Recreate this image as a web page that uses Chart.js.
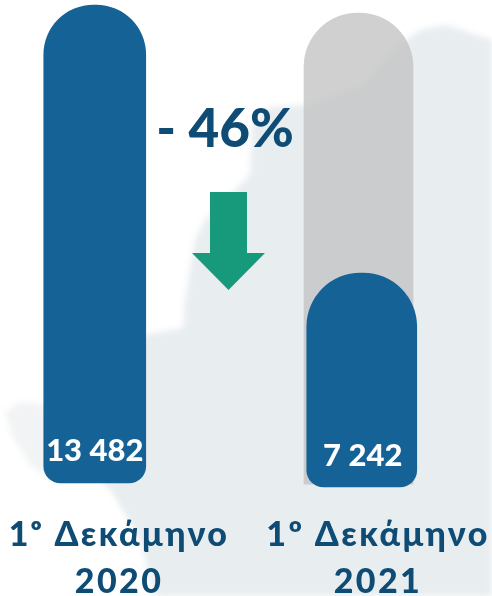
<!DOCTYPE html>
<html>
<head>
<meta charset="utf-8">
<script src="https://cdn.jsdelivr.net/npm/chart.js@4"></script>
<style>
  html, body { margin: 0; padding: 0; background: #fff; }
  #wrap { width: 492px; height: 596px; }
</style>
</head>
<body>
<div id="wrap"><canvas id="c" width="492" height="596"></canvas></div>
<script>
/* labels under the bars */
var categories = [["1ᵒ Δεκάμηνο", "2020"], ["1º Δεκάμηνο", "2021"]];
/* numbers printed on the bars */
var valueLabels = ["13 482", "7 242"];
var changeLabel = "- 46%";

/* bar extents, [base, top]. the source artwork is
   not to scale: its 2021 bar is shorter than 7 242 would be next to 13 482 */
var bar2020 = [0, 13482];
var barGhost = [-30, 13256];
var bar2021 = [-113, 5923];

var BLUE = "#156296", DARK = "#0f4c75", GREEN = "#169a7b";
var FONT = "Lato, 'Noto Sans', sans-serif";

function poly(g, pts) {
  g.beginPath();
  pts.forEach(function (p, i) { if (i) g.lineTo(p[0], p[1]); else g.moveTo(p[0], p[1]); });
  g.closePath();
  g.fill();
}

// pale map behind the chart + arrow + headline text
var decor = {
  id: "decor",
  beforeDraw: function (chart) {
    var g = chart.ctx;
    var map = [[492,40],[462,30],[445,25],[420,30],[400,45],[385,60],[363,85],[335,95],[307,105],[270,107],[252,125],[250,175],[205,220],[195,240],[190,270],[185,300],[183,328],[145,335],[100,400],[100,480],[112,492],[140,540],[155,596],[492,596]];
    var island = [[5,412],[20,402],[50,405],[50,480],[30,465],[12,435]];
    g.save();
    g.filter = "blur(3px)";
    g.fillStyle = "#e8edf0";
    poly(g, map);
    g.fillStyle = "#f1f3f4";
    poly(g, island);
    g.restore();
    g.letterSpacing = "2.4px";
  },
  afterDatasetsDraw: function (chart) {
    var g = chart.ctx;
    g.save();
    g.letterSpacing = "0px";
    g.textAlign = "center";
    g.textBaseline = "middle";
    g.fillStyle = "#fff";
    g.font = "900 31px " + FONT;
    var a = chart.getDatasetMeta(0).data[0], b = chart.getDatasetMeta(2).data[0];
    g.fillText(valueLabels[0], a.x, a.base - 32);
    g.fillText(valueLabels[1], b.x + 1, b.base - 31);
    g.fillStyle = DARK;
    g.font = "900 53px " + FONT;
    g.fillText(changeLabel, 225, 130);
    g.fillStyle = GREEN;
    poly(g, [[210,192],[247,192],[247,253],[265,253],[228.5,290],[192,253],[210,253]]);
    g.restore();
  }
};

new Chart(document.getElementById("c"), {
  type: "bar",
  data: {
    datasets: [
      { data: [{ x: 0, y: bar2020 }], xAxisID: "x", order: 1, grouped: false, backgroundColor: BLUE, barThickness: 102, borderRadius: { topLeft: 50, topRight: 50, bottomLeft: 17, bottomRight: 17 }, borderSkipped: false },
      { data: [{ x: 1, y: barGhost }], xAxisID: "xGhost", order: 2, grouped: false, backgroundColor: "rgba(195,195,195,0.78)", barThickness: 109, borderRadius: { topLeft: 54, topRight: 54, bottomLeft: 0, bottomRight: 0 }, borderSkipped: false },
      { data: [{ x: 1, y: bar2021 }], xAxisID: "x", order: 1, grouped: false, backgroundColor: BLUE, barThickness: 110, borderRadius: { topLeft: 54, topRight: 54, bottomLeft: 17, bottomRight: 17 }, borderSkipped: false }
    ]
  },
  options: {
    responsive: false,
    animation: false,
    layout: { padding: 0 },
    plugins: { legend: { display: false }, tooltip: { enabled: false } },
    scales: {
      x: { type: "linear", display: false, offset: false, min: -0.3549, max: 1.4878 },
      xGhost: { type: "linear", axis: "x", display: false, offset: false, min: -0.3695, max: 1.51 },
      xLabels: {
        type: "linear", axis: "x", position: "bottom", offset: false, min: -0.4595, max: 1.4402,
        border: { display: false },
        grid: { display: false },
        afterFit: function (s) { s.height = 101; },
        ticks: {
          stepSize: 1, includeBounds: false, maxRotation: 0, autoSkip: false, padding: 9,
          color: DARK,
          font: { family: FONT, size: 34, weight: "900", lineHeight: 1.38 },
          callback: function (v) { return categories[v]; }
        }
      },
      y: { display: false, min: -338, max: 13623 }
    }
  },
  plugins: [decor]
});
</script>
</body>
</html>
